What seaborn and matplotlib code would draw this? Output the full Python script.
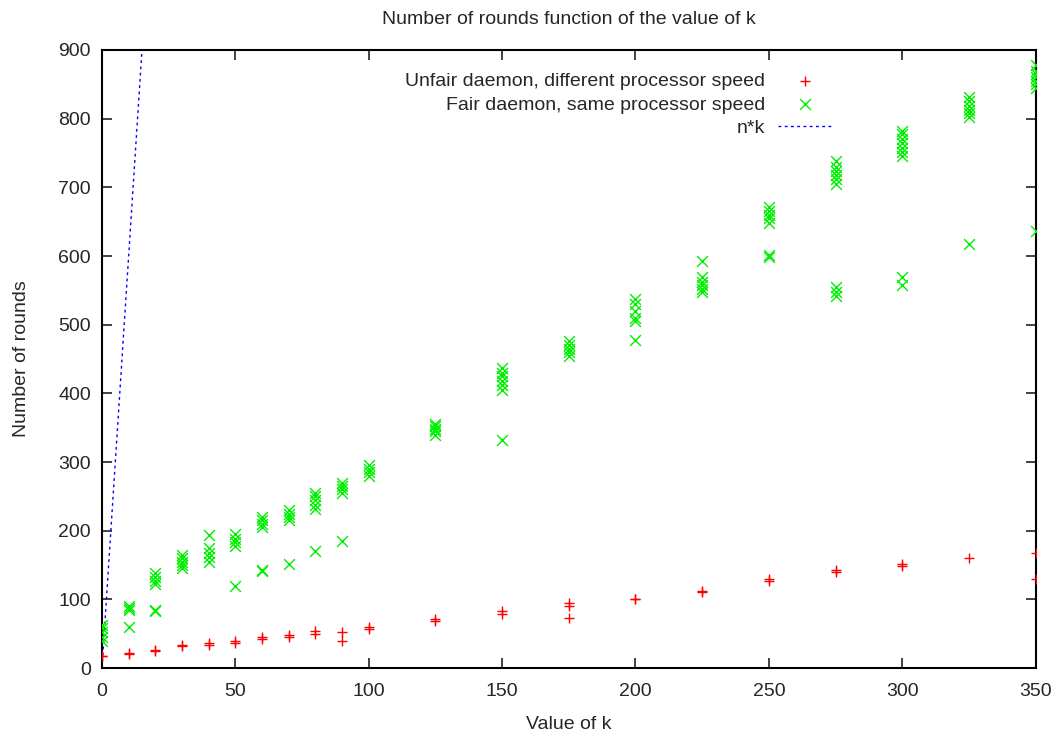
import numpy as np
import pandas as pd
import seaborn as sns
import matplotlib.pyplot as plt

# values of k that were tested
k_values = [0, 10, 20, 30, 40, 50, 60, 70, 80, 90, 100,
            125, 150, 175, 200, 225, 250, 275, 300, 325, 350]

# rounds for each k (several runs per k)
unfair_rounds = [
    [17, 18], [20, 22], [25, 26], [32, 33], [34, 36], [37, 40],
    [42, 45], [45, 48], [50, 54], [40, 53], [57, 60],
    [68, 71], [79, 83], [73, 91, 95], [100, 101], [110, 112],
    [127, 129], [140, 143], [148, 151], [160], [130, 168],
]
fair_rounds = [
    [40, 45, 52, 58, 62],
    [60, 85, 88, 90],
    [83, 85, 122, 127, 132, 138],
    [145, 150, 155, 160, 165],
    [155, 162, 168, 175, 194],
    [120, 178, 184, 188, 195],
    [141, 143, 205, 210, 215, 220],
    [152, 215, 220, 225, 230],
    [171, 232, 238, 244, 250, 255],
    [185, 255, 260, 265, 270],
    [280, 285, 290, 295],
    [340, 345, 348, 352, 356],
    [332, 405, 412, 418, 425, 430, 437],
    [455, 460, 465, 470, 476],
    [478, 505, 510, 520, 530, 537],
    [548, 552, 558, 562, 570, 593],
    [598, 602, 648, 655, 660, 665, 672],
    [542, 548, 555, 705, 712, 718, 724, 730, 738],
    [558, 570, 745, 752, 758, 765, 770, 778, 782],
    [618, 803, 808, 813, 818, 825, 832],
    [636, 845, 850, 855, 860, 865, 870, 878],
]
n = 60
nk_k = [0, 350]


def to_frame(rounds):
    rows = []
    for k, vals in zip(k_values, rounds):
        for v in vals:
            rows.append((k, v))
    return pd.DataFrame(rows, columns=['k', 'rounds'])


unfair = to_frame(unfair_rounds)
fair = to_frame(fair_rounds)
nk = pd.DataFrame({'k': nk_k, 'rounds': [n * k for k in nk_k]})

sns.set_style('ticks')
plt.rcParams['font.family'] = ['Liberation Sans', 'DejaVu Sans']
plt.rcParams['font.size'] = 14

fig = plt.figure(figsize=(10.6, 7.32), dpi=100)
ax = fig.add_axes([0.0962, 0.0874, 0.8808, 0.8443])

sns.scatterplot(data=unfair, x='k', y='rounds', marker='+', color='#ff0000',
                s=60, linewidth=1, ax=ax, label='Unfair daemon, different processor speed', zorder=3)
sns.scatterplot(data=fair, x='k', y='rounds', marker='x', color='#00ee00',
                s=60, linewidth=1, ax=ax, label='Fair daemon, same processor speed', zorder=3)
sns.lineplot(data=nk, x='k', y='rounds', color='#0000ff', linewidth=1,
             ax=ax, label='n*k', zorder=2)
ax.lines[-1].set_dashes((2, 2.5))

ax.set_xlim(0, 350)
ax.set_ylim(0, 900)
ax.set_xticks(range(0, 351, 50))
ax.set_yticks(range(0, 901, 100))
ax.tick_params(direction='in', length=7, width=1.2, top=True, right=True,
               labelsize=14, pad=8, color='#222222')
ax.tick_params(axis='x', pad=11)
for s in ax.spines.values():
    s.set_linewidth(1.5)
    s.set_color('black')

ax.set_title('Number of rounds function of the value of k', fontsize=14, pad=19)
ax.set_xlabel('Value of k', fontsize=14, labelpad=11)
ax.set_ylabel('Number of rounds', fontsize=14, labelpad=20)

leg = ax.legend(loc='upper right', bbox_to_anchor=(0.783, 0.963), markerfirst=False,
                frameon=False, fontsize=14, handlelength=2.85, handletextpad=0.65,
                labelspacing=0.28, borderaxespad=0, borderpad=0)
for h in leg.legend_handles:
    h.set_linewidth(1)

fig.savefig('out.png', dpi=100)
